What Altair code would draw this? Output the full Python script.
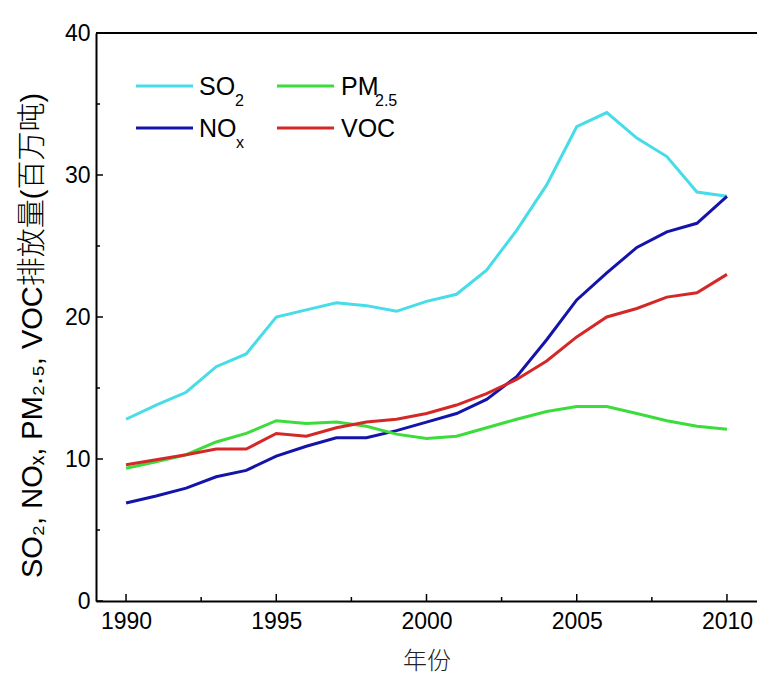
import altair as alt
import pandas as pd

years = list(range(1990, 2011))
so2 = [12.8, 13.8, 14.7, 16.5, 17.4, 20.0, 20.5, 21.0, 20.8, 20.4, 21.1,
       21.6, 23.3, 26.1, 29.3, 33.4, 34.4, 32.6, 31.3, 28.8, 28.5]
nox = [6.9, 7.4, 7.95, 8.75, 9.2, 10.2, 10.9, 11.5, 11.5, 12.0, 12.6,
       13.2, 14.2, 15.8, 18.4, 21.2, 23.1, 24.9, 26.0, 26.6, 28.5]
pm25 = [9.35, 9.8, 10.3, 11.2, 11.8, 12.7, 12.5, 12.6, 12.3, 11.75, 11.45,
        11.6, 12.2, 12.8, 13.35, 13.7, 13.7, 13.2, 12.7, 12.3, 12.1]
voc = [9.6, 9.95, 10.3, 10.7, 10.7, 11.8, 11.6, 12.2, 12.6, 12.8, 13.2,
       13.8, 14.6, 15.6, 16.9, 18.6, 20.0, 20.6, 21.4, 21.7, 23.0]

series_names = ["SO2", "NOx", "PM2.5", "VOC"]
series_colors = ["#46DCE8", "#1414AA", "#3CDC3C", "#D42828"]

x_major = [1990, 1995, 2000, 2005, 2010]
x_minor = [1992.5, 1997.5, 2002.5, 2007.5]
y_major = [0, 10, 20, 30, 40]
y_minor = [5, 15, 25, 35]

rows = []
for name, vals in zip(series_names, [so2, nox, pm25, voc]):
    for yr, v in zip(years, vals):
        rows.append({"year": yr, "value": v, "series": name})
df = pd.DataFrame(rows)

W, H = 661, 568
FONT = "Liberation Sans, Arial, Noto Sans CJK SC"
CJK = "Liberation Sans, Noto Sans CJK SC"

xscale = alt.Scale(domain=[1989, 2011], nice=False, zero=False)
yscale = alt.Scale(domain=[0, 40], nice=False)

lines = alt.Chart(df).mark_line(strokeWidth=3).encode(
    x=alt.X("year:Q", scale=xscale,
            axis=alt.Axis(values=x_major, format="d", ticks=False, grid=False,
                          labelFontSize=23, labelFont=FONT, labelColor="black",
                          labelPadding=9, domainColor="black", domainWidth=2,
                          title="年份", titleFont=CJK, titleFontSize=24,
                          titleFontWeight=300, titleColor="#222",
                          titleY=60, titleBaseline="middle")),
    y=alt.Y("value:Q", scale=yscale,
            axis=alt.Axis(values=y_major, ticks=False, grid=False,
                          labelFontSize=23, labelFont=FONT, labelColor="black",
                          labelPadding=6, domainColor="black", domainWidth=2,
                          title="SO₂, NOₓ, PM₂.₅, VOC排放量(百万吨)",
                          titleFont=CJK, titleFontSize=29,
                          titleFontWeight=300, titleColor="black",
                          titleAngle=270, titleX=-55, titleY=302,
                          titleAlign="center", titleBaseline="alphabetic")),
    color=alt.Color("series:N", scale=alt.Scale(domain=series_names, range=series_colors),
                    legend=None),
    detail="series:N",
)

ytick_major = alt.Chart(pd.DataFrame({"v": y_major})).mark_rule(color="black", strokeWidth=1.5).encode(
    y=alt.Y("v:Q", scale=yscale), x=alt.value(0), x2=alt.value(7))
ytick_minor = alt.Chart(pd.DataFrame({"v": y_minor})).mark_rule(color="black", strokeWidth=1.5).encode(
    y=alt.Y("v:Q", scale=yscale), x=alt.value(0), x2=alt.value(4))
xtick_major = alt.Chart(pd.DataFrame({"v": x_major})).mark_rule(color="black", strokeWidth=1.5).encode(
    x=alt.X("v:Q", scale=xscale), y=alt.value(H), y2=alt.value(H - 7))
xtick_minor = alt.Chart(pd.DataFrame({"v": x_minor})).mark_rule(color="black", strokeWidth=1.5).encode(
    x=alt.X("v:Q", scale=xscale), y=alt.value(H), y2=alt.value(H - 4))
top_border = alt.Chart(pd.DataFrame({"v": [40]})).mark_rule(color="black", strokeWidth=2).encode(
    y=alt.Y("v:Q", scale=yscale), x=alt.value(0), x2=alt.value(W))

# legend (manual, to allow subscripts)
leg_layers = []
leg_items = [
    # color, line x0, x1, y, main text, text x, sub text, sub x
    (series_colors[0], 40, 97, 53, "SO", 103, "2", 139),
    (series_colors[2], 181, 238, 53, "PM", 245, "2.5", 279),
    (series_colors[1], 40, 97, 95, "NO", 103, "x", 140),
    (series_colors[3], 181, 238, 95, "VOC", 245, "", 0),
]
for col, x0, x1, yy, txt, tx, sub, sx in leg_items:
    leg_layers.append(
        alt.Chart(pd.DataFrame({"n": [txt]})).mark_rule(color=col, strokeWidth=3).encode(
            x=alt.value(x0), x2=alt.value(x1), y=alt.value(yy)))
    leg_layers.append(
        alt.Chart(pd.DataFrame({"t": [txt]})).mark_text(
            align="left", baseline="alphabetic", fontSize=25, font=FONT, color="black").encode(
            x=alt.value(tx), y=alt.value(yy + 9), text="t:N"))
    if sub:
        leg_layers.append(
            alt.Chart(pd.DataFrame({"t": [sub]})).mark_text(
                align="left", baseline="alphabetic", fontSize=16, font=FONT, color="black").encode(
                x=alt.value(sx), y=alt.value(yy + 20), text="t:N"))

chart = alt.layer(lines, ytick_major, ytick_minor, xtick_major, xtick_minor, top_border,
                  *leg_layers).properties(
    width=W, height=H,
    padding={"left": 96, "top": 33, "right": 0, "bottom": 77},
    autosize=alt.AutoSizeParams(type="none"),
    background="white",
).configure_view(stroke=None)

chart.save("out.html", embed_options={"renderer": "svg", "actions": False})
